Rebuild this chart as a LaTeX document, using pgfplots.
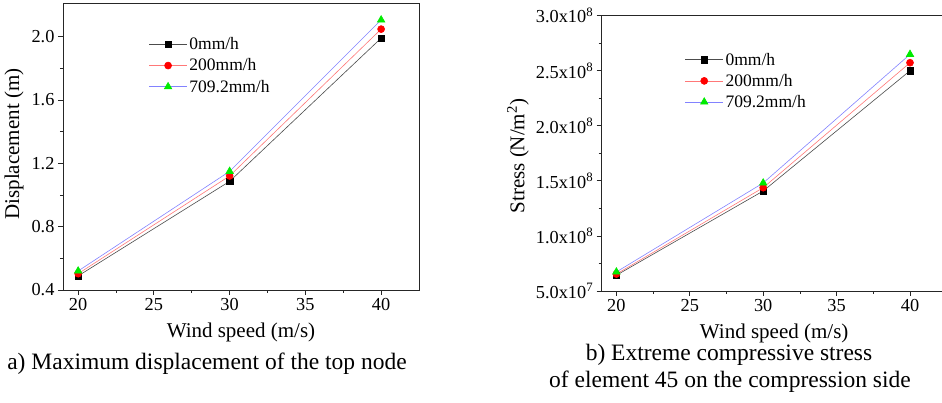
\documentclass[border=0pt]{standalone}
\usepackage{fontspec}
\setmainfont{Liberation Serif}
\usepackage{pgfplots}
\pgfplotsset{compat=1.18}
\definecolor{mygreen}{RGB}{0,235,0}
\definecolor{lred}{RGB}{255,120,120}
\definecolor{lblue}{RGB}{130,130,255}
\begin{document}
\begin{tikzpicture}
\useasboundingbox (0pt,0pt) rectangle (942pt,403pt);
\pgfplotsset{
 mystyle/.style={
  scale only axis,
  xmin=19, xmax=42.5,
  xtick={20,25,30,35,40},
  minor x tick num=1, minor y tick num=1,
  tick align=outside,
  axis line style={line width=0.8pt, black!85},
  every tick/.style={black!85, line width=0.8pt},
  major tick length=5pt, minor tick length=3pt,
  xtick pos=bottom, ytick pos=left,
  tick label style={font=\fontsize{18.3}{21}\selectfont},
  /pgf/number format/assume math mode=true,
  label style={font=\fontsize{21}{24}\selectfont},
  legend style={draw=none, fill=none, font=\fontsize{17.5}{20.5}\selectfont, anchor=north west, legend cell align=left, row sep=3.5pt},
  legend image code/.code={\draw[mark repeat=2,mark phase=2] plot coordinates {(0pt,0pt) (19pt,0pt) (38pt,0pt)};},
  xlabel={Wind speed (m/s)},
  xlabel style={at={(axis description cs:0.5,0)}, anchor=center, yshift=-42pt},
 },
 s0/.style={color=black!70, line width=0.6pt, mark=square*, mark size=3.2pt, mark options={black, fill=black}},
 s1/.style={color=lred, line width=0.6pt, mark=*, mark size=3.5pt, mark options={red, fill=red}},
 s2/.style={color=lblue, line width=0.6pt, mark=triangle*, mark size=4.3pt, mark options={mygreen, fill=mygreen}},
}
\begin{axis}[mystyle,
  at={(63pt,113pt)}, anchor=south west,
  width=356pt, height=286.7pt,
  ymin=0.4, ymax=2.21,
  ytick={0.4,0.8,1.2,1.6,2.0},
  yticklabel style={/pgf/number format/.cd, fixed, fixed zerofill, precision=1},
  ylabel={Displacement (m)},
  ylabel style={at={(axis description cs:-0.1376,0.509)}, anchor=center},
  legend style={at={(rel axis cs:0.232,0.895)}},
]
\addplot[s0] coordinates {(20,0.489) (30,1.086) (40,1.99)};
\addlegendentry{0mm/h}
\addplot[s1] coordinates {(20,0.503) (30,1.12) (40,2.047)};
\addlegendentry{200mm/h}
\addplot[s2] coordinates {(20,0.52) (30,1.149) (40,2.105)};
\addlegendentry{709.2mm/h}
\end{axis}
\begin{axis}[mystyle,
  at={(601.7pt,112pt)}, anchor=south west,
  width=345pt, height=275.3pt,
  ymin=5e7, ymax=3e8,
  scaled y ticks=false,
  ytick={5e7,1e8,1.5e8,2e8,2.5e8,3e8},
  yticklabels={5.0x10\textsuperscript{7},1.0x10\textsuperscript{8},1.5x10\textsuperscript{8},2.0x10\textsuperscript{8},2.5x10\textsuperscript{8},3.0x10\textsuperscript{8}},
  ylabel={Stress (N/m\textsuperscript{2})},
  ylabel style={at={(axis description cs:-0.2426,0.49)}, anchor=center},
  legend style={at={(rel axis cs:0.232,0.88)}},
]
\addplot[s0] coordinates {(20,6.43e7) (30,1.408e8) (40,2.500e8)};
\addlegendentry{0mm/h}
\addplot[s1] coordinates {(20,6.54e7) (30,1.438e8) (40,2.573e8)};
\addlegendentry{200mm/h}
\addplot[s2] coordinates {(20,6.73e7) (30,1.481e8) (40,2.649e8)};
\addlegendentry{709.2mm/h}
\end{axis}
\node[font=\fontsize{23.5}{27}\selectfont, anchor=base, inner sep=0pt] at (207pt,33.7pt) {a) Maximum displacement of the top node};
\node[font=\fontsize{23.5}{27}\selectfont, anchor=base, inner sep=0pt] at (729pt,42.3pt) {b) Extreme compressive stress};
\node[font=\fontsize{23.5}{27}\selectfont, anchor=base, inner sep=0pt] at (730pt,15.7pt) {of element 45 on the compression side};
\end{tikzpicture}
\end{document}
